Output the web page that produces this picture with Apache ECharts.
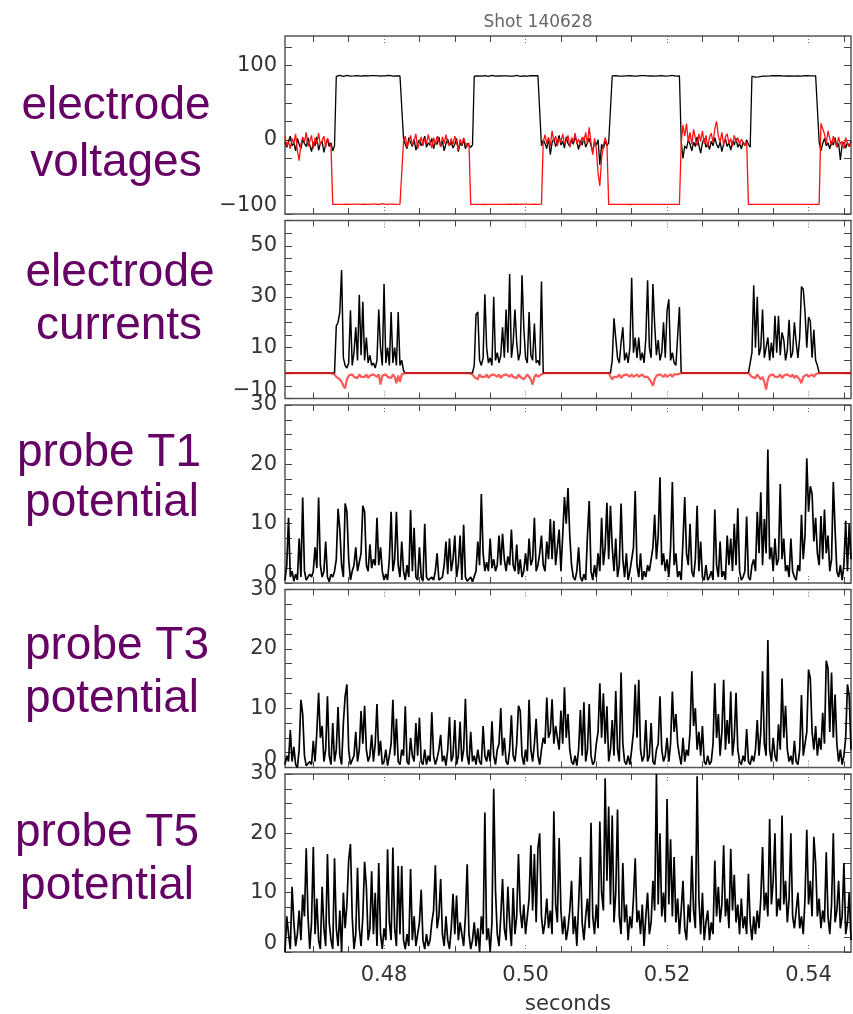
<!DOCTYPE html>
<html>
<head>
<meta charset="utf-8">
<script src="https://cdn.jsdelivr.net/npm/echarts@6/dist/echarts.min.js"></script>
<style>
  html, body { margin: 0; padding: 0; background: #fff; }
  #chart { width: 853px; height: 1014px; }
</style>
</head>
<body>
<div id="chart"></div>
<script>
// Sample grid of every trace: t = T0 + i * DT seconds (321 samples)
const T0 = 0.466;
const DT = 0.00025;
const X_MIN = 0.466;
const X_MAX = 0.546;

const xLabelTicks = [0.48, 0.50, 0.52, 0.54];
const xMinorTicks = [0.470, 0.475, 0.485, 0.490, 0.495, 0.505, 0.510, 0.515, 0.525, 0.530, 0.535, 0.545];

const plotTitle = 'Shot 140628';
const xAxisTitle = 'seconds';
const panelNames = [
  ['electrode', 'voltages'],
  ['electrode', 'currents'],
  ['probe T1', 'potential'],
  ['probe T3', 'potential'],
  ['probe T5', 'potential']
];

// y ranges, labelled values and minor tick step of each panel
const yRanges = [[-100, 140], [-10, 60], [0, 30], [0, 30], [0, 30]];
const yLabels = [[-100, 0, 100], [-10, 10, 30, 50], [0, 10, 20, 30], [0, 10, 20, 30], [0, 10, 20, 30]];
const yTickSteps = [25, 5, 2.5, 2.5, 2.5];

// electrode voltages (V)
const voltBlack = [
  -3,-10,-2,5,-8,-4,-15,2,-6,-12,
  0,-5,-9,3,-7,-16,-3,-8,4,-14,
  -5,-2,-17,-6,1,-9,-4,-15,-8,85.5,
  86.2,86.8,86,85.7,86.4,86.9,86.1,85.8,86.5,86.2,
  85.9,86.7,86.3,86,85.6,86.4,86.8,86.1,85.9,86.5,
  86.2,86.6,85.8,86.3,86.9,86.1,85.7,86.4,86.2,86.8,
  86,85.8,86.5,86.3,86.7,86.1,86.4,2,-6,-12,
  3,-4,-9,1,-14,-5,0,-8,-3,5,
  -10,-4,-7,2,-12,-3,-6,4,-9,-2,
  -15,-5,1,-8,-3,-11,-6,2,-16,-4,
  -8,0,-12,-5,-3,-10,-7,85.8,86.4,86.1,
  86.7,85.9,86.3,86.6,86,85.7,86.4,86.8,86.2,85.9,
  86.5,86.1,86.7,86.3,85.8,86.2,86.6,86,86.4,85.9,
  86.3,86.8,86.1,85.7,86.5,86.2,86.6,86,86.3,86.7,
  85.9,86.4,86.1,86.5,86.2,-8,0,-5,-12,3,
  -20,-4,2,-9,-3,6,-7,-2,-11,4,
  -5,-9,0,-6,5,-3,-13,-1,-7,3,
  -10,-4,2,-8,-16,-3,-7,0,-34,-6,
  -12,-2,-8,-4,-5,86.1,85.8,86.4,86.7,86,
  86.3,85.9,86.6,86.2,85.7,86.5,86.8,86.1,86.4,85.9,
  86.2,86.7,86,86.5,85.8,86.3,86.6,86.1,86.4,85.9,
  86.7,86.2,86,86.5,86.3,85.8,86.6,86.1,86.4,86.8,
  86.2,85.9,86.5,86.3,-2,-25,-8,-12,0,-6,
  -15,-3,-9,4,-7,-18,-4,2,-10,-5,
  -13,-2,-8,3,-6,-11,-3,-16,-5,1,
  -9,-4,-14,-2,-7,2,-10,-5,-12,-3,
  -8,0,-6,-10,85.7,85.2,84.5,84.3,84.8,85.2,
  85.8,86.3,86,86.5,86.2,85.9,86.6,86.1,86.4,86,
  86.7,86.2,85.9,86.5,86.3,86.8,86.1,86.4,85.9,86.6,
  86.2,86.5,86,86.3,86.7,86.1,86.4,85.8,86.2,86.6,
  86.3,86,-3,-15,-5,2,-8,-4,-12,-2,
  -7,3,-10,-5,-27,-6,-3,-11,-4,-9,
  -2
];
const voltRed = [
  5,-8,-3,-12,2,-5,8,-15,-28,-6,
  4,-3,10,-9,-2,6,-12,3,-5,9,
  -7,-1,5,-10,2,-4,-8,-87,-86.5,-87,
  -85.5,-87,-86.8,-87,-87.2,-86.6,-87,-86.9,-87.1,-86.7,
  -87,-86.8,-87.2,-86.9,-87,-86.7,-87.1,-86.9,-87,-86.6,
  -87.1,-86.8,-87,-87.2,-86.7,-86,-87,-86.9,-87.1,-86.8,
  -87,-86.7,-87.1,-86.9,-87,-86.8,-87,-2,5,-10,
  -3,6,-7,-1,8,-12,-4,4,-8,2,
  -5,7,-3,-11,3,-6,5,-2,-9,4,
  -5,7,-4,-8,2,-6,5,-3,-14,1,
  -7,3,-5,-9,-4,-87,-86.8,-87.1,-86.9,-87,
  -86.7,-87,-86.9,-87.2,-86.8,-87,-86.6,-87.1,-86.9,-87,
  -86.8,-87.1,-86.9,-87,-86.7,-87,-87.2,-86.8,-87,-86.9,
  -87.1,-86.8,-87,-86.9,-87.1,-86.7,-87,-86.8,-87.1,-86.9,
  -87,-86.8,-87.1,-86.9,-87,-86.8,-3,7,-5,3,
  -9,12,-2,5,-8,2,-4,8,-6,-1,
  6,-10,3,-3,9,-5,1,-8,4,-2,
  10,-6,17,-4,-20,2,-12,-45,-62,-25,
  -8,3,-5,-87,-86.8,-87.1,-86.9,-87,-86.7,-87,
  -86.9,-87.1,-86.8,-87,-86.9,-87.2,-86.8,-87,-86.9,-87.1,
  -86.8,-87,-86.9,-87.1,-86.7,-87,-86.8,-87.1,-86.9,-87,
  -86.8,-87.1,-86.9,-87,-86.7,-87,-86.9,-87.1,-86.8,-87,
  -86.9,-87.1,-86.8,-87,-5,20,5,22,-3,10,
  -6,14,2,-8,8,-2,12,-5,6,-10,
  3,9,-4,15,25,5,-3,10,-7,4,
  8,-5,2,-9,6,-3,3,-6,1,-4,
  -8,-2,-87,-86.8,-87.1,-86.9,-87,-86.7,-87,-86.9,
  -87.1,-86.2,-87,-86.9,-87.1,-86.8,-87,-86.9,-87.1,-86.8,
  -87,-86.9,-87.1,-86.8,-87,-86.9,-87.1,-86.8,-87,-86.9,
  -87.1,-86.8,-87,-86.9,-87.1,-86.8,-87,-86.9,-87.1,-86.8,
  -87,-86.9,-87,22,15,8,-5,12,2,-8,
  5,-3,-10,4,-6,-2,-12,3,-5,-9,
  -4
];

// electrode currents (A)
const currBlack = [
  0,0,0,0,0,0,0,0,0,0,
  0,0,0,0,0,0,0,0,0,0,
  0,0,0,0,0,0,0,0,0,18.5,
  20,24,40.5,6,3,2,4,24.7,3,8,
  18,5,30.8,7,28,5,14,4,7,3,
  4,2,5,25,10,3,35,4,10,3,
  24,4,10,3,24,3,5,1,0,0,
  0,0,0,0,0,0,0,0,0,0,
  0,0,0,0,0,0,0,0,0,0,
  0,0,0,0,0,0,0,0,0,0,
  0,0,0,0,0,0,0,3,23,24,
  5,3,6,31,10,4,6,3,30,5,
  8,4,7,18,6,25,8,39,6,12,
  25,12,5,8,38.5,18,6,4,24,7,
  5,19.5,4,5,3,36,0,0,0,0,
  0,0,0,0,0,0,0,0,0,0,
  0,0,0,0,0,0,0,0,0,0,
  0,0,0,0,0,0,0,0,0,0,
  0,0,0,0,0,5,21.5,21,6,4,
  12,18,5,8,4,10,37.5,8,14,6,
  14,5,8,4,13.5,36.5,10,6,35,19,
  7,13,5,8,20,6,24.5,29,5,8,
  4,3,3,26,0,0,0,0,0,0,
  0,0,0,0,0,0,0,0,0,0,
  0,0,0,0,0,0,0,0,0,0,
  0,0,0,0,0,0,0,0,0,0,
  0,0,0,0,8,34.5,10,30,7,10,
  25,6,10,14,5,12,6,22.5,8,22.5,
  7,16,13,5,9,21,6,8,20,12,
  6,14,34,33,24,10,22,20.5,6,17,
  5,3,0,0,0,0,0,0,0,0,
  0,0,0,0,0,0,0,0,0,0,
  0
];
const currRed = [
  0,0,0,0,0,0,0,0,0,0,
  0,0,0,0,0,0,0,0,0,0,
  0,0,0,0,0,0,0,0,-0.5,-1.5,
  -1,-2.5,-3.5,-5,-6,-2.5,-1,-1.5,-0.5,-1.5,
  -1,-2,-0.5,-1.5,-1,-1.5,-0.5,-2,-1,-1.5,
  -0.5,-1,-1.5,-0.5,-4.5,-1,-1.5,-0.5,-1.5,-1,
  -2,-0.5,-1.5,-4,-1,-3.5,-0.5,0,0,0,
  0,0,0,0,0,0,0,0,0,0,
  0,0,0,0,0,0,0,0,0,0,
  0,0,0,0,0,0,0,0,0,0,
  0,0,0,0,0,0,-0.5,-1.5,-1,-2.5,
  -0.5,-1.5,-1,-1.5,-0.5,-2,-1,-1.5,-0.5,-1,
  -1.5,-0.5,-2,-1,-1.5,-0.5,-1,-1.5,-0.5,-1.5,
  -1,-2,-0.5,-1.5,-1,-2.5,-1.5,-0.5,-1.5,-2.5,
  -4.5,-1.5,-0.5,-1.5,-1,-0.5,0,0,0,0,
  0,0,0,0,0,0,0,0,0,0,
  0,0,0,0,0,0,0,0,0,0,
  0,0,0,0,0,0,0,0,0,0,
  0,0,0,0,0,-2.5,-1.5,-1,-1.5,-0.5,
  -2,-1,-1.5,-0.5,-1,-1.5,-0.5,-1.5,-1,-0.5,
  -1.5,-1,-0.5,-1.5,-1,-1.5,-2.5,-3.5,-5,-2.5,
  -1,-1.5,-0.5,-1,-1.5,-0.5,-1.5,-1,-0.5,-1.5,
  -0.5,-1,-0.5,-1,0,0,0,0,0,0,
  0,0,0,0,0,0,0,0,0,0,
  0,0,0,0,0,0,0,0,0,0,
  0,0,0,0,0,0,0,0,0,0,
  0,0,0,-0.5,-1.5,-1,-2,-0.5,-1.5,-2.5,
  -1.5,-3.5,-6.5,-2.5,-1,-1.5,-0.5,-1.5,-1,-1.5,
  -0.5,-2,-1,-1.5,-0.5,-1,-1.5,-0.5,-2,-1,
  -1.5,-2.5,-4,-1.5,-1,-0.5,-1.5,-1,-0.5,-1.5,
  -0.5,-1,0,0,0,0,0,0,0,0,
  0,0,0,0,0,0,0,0,0,0,
  0
];

// floating potentials of probes T1, T3, T5 (V)
const probeT1 = [
  0.5,3,11,1,2,0.3,1.5,0.5,7.5,1,
  14.4,2,0.5,1,1.5,1,2,6,2.5,14.4,
  3,1,2,7,1,0.2,1.5,1,2,4,
  12.5,9,3,1,13.4,12,4,0.5,2,3,
  6,2,3.5,5,13,12,3,2,6.5,2.5,
  4,3,11,3,6,2,0.5,1.5,0.5,4,
  12,2,4,12,3,1,7,2,0.5,3,
  1,12.3,2,9.3,1,0.5,6,1,0.3,10,
  1,0.5,0.2,1,0.5,2,5,0.5,0.2,1,
  3,7,1.5,7.5,2,4,8,1,3,8,
  0.5,9.8,1,0.3,0.5,1,0.2,0.5,2,7,
  3,15,5,2,3.5,2,7.5,2.5,4,2,
  3,8,3,8.3,4,2,4.5,3,9,3,
  2,6.5,1.5,4,1,2,5,2,7.5,3,
  4,11,2,3,5,8,3,2,7,4,
  10.8,4,10.5,3,6,9,2,8,14.5,10,
  16,8,3,1,0.5,2,6,1,0.3,1.5,
  0.5,8,13.8,2,0.5,3,1,5,2,11,
  3,6,13.5,4,13,6,2,7.5,1,3,
  13.4,4,1,5,0.5,2,4,6,15.5,3,
  1,5,0.5,2,1,3,2,4,6,11.5,
  4,8,17.8,3,5,2,4,1,6,17,
  3,5,1,2,0.5,7,14.5,5,3,10,
  2,1,4,13,2,7,1,0.5,3,0.5,
  1,2,0.5,12.4,3,1,7,1,2,0.5,
  8,3,7.5,2,10,3,12.6,2,0.5,1,
  2,11.2,1,0.5,3,4,2,12,5,15.3,
  3,10.8,5,22.5,4,6,2,7.5,3,4,
  16.7,4,7.5,2,3,1,7.5,2,1,0.5,
  3,2,11.5,4,8,21,12,16.3,15,7,
  11,5,3,11.3,4,12.4,5,8,2,4,
  17,9,2,1,3,0.5,3,10.5,2,10,
  4
];
const probeT3 = [
  0.5,2,1,6.3,1,3.5,0.5,0,3,11.4,
  9,2,0.3,0,1,0.5,4.5,1,6,12.6,
  5,7,1,3,12,2,0.5,7.5,1,3,
  10.2,2,0.5,7.5,12,14,3,0.5,0.2,2,
  6,1,3,9.5,4,10.4,3,1,2,5.5,
  1,4,10.7,2,4.5,0.5,1,3,0.3,2,
  4,11.4,2,8.2,1,0.5,3,2,10.3,1,
  0.5,5,2,1,7.5,2,8.4,1,0.5,3,
  0.5,2,1,9.3,2,0.5,1.5,3,5.5,1,
  2,0.3,3,8.5,1,2,8,0.5,2,7.7,
  1,3,11.6,2,0.5,6,1,2,0.5,3,
  1,0.5,7,2,1,3,1,7.8,2,0.5,
  3,4,10,2,5,1,0.5,3,8.8,2,
  1,4,10.4,9.5,2,0.5,3,1,11.4,3,
  1,4,8.2,2,0.5,3,5,4,11.8,5,
  6,11.5,4,7,5,3,9.6,4,13.5,5,
  9,3,1,0.5,2,0.3,3,9.7,2,11,
  1,3,10.7,2,0.5,1,4,6,14.2,5,
  12.5,4,10.3,1,3,8,2,12.9,3,1,
  16,4,1,0.5,2,0.5,3,6,14,5,
  14.8,3,1,2,8,1,2,7.5,1,0.5,
  3,4,12,3,1,2,5,1,4,12.8,
  6,9,4,2,0.5,5,1,3,2,6,
  16.2,7,10,3,6,2,7,1,0.5,2,
  0.5,1,4,14.2,5,9,2,6,14.8,3,
  8,4,12.8,2,5,12.6,3,1,0.5,2,
  1,6.5,1,0.5,2,1,3,8,2,6,
  16.2,4,2,21.5,3,1,5,2,1,7.3,
  3,15,5,10.4,3,1,2,0.5,4.5,1,
  0.5,3,12.2,2,4,6,16.5,15,6,3,
  7,2,5,3,9.2,4,18,16.7,6,16,
  5,12.3,4,1,3,0.5,2,5,14,12,
  3
];
const probeT5 = [
  0,6,3,0.5,11,5,1,3,7,2,
  9.7,6,17.5,6,0.5,5,17.7,3,9,2,
  0.5,11,4,1,16.5,5,2,0.5,15.8,4,
  1,7,0,10,4,8,15.5,18.2,6,0.5,
  3,14.2,4,1,6,15.2,11,2,4,13.6,
  3,10,1,15,3,0.5,4,2,17.3,5,
  2,17.6,4,1,14.5,3,14.5,2,0.5,3,
  1,14,2,6,1,3,5,10.5,2,0.5,
  3,1,2,5,7,14.6,4,6,12.3,3,
  1,6,2,0.5,4,9.8,3,9.5,2,5,
  3,1,6,14.8,3,0.5,2,5,1,4,
  0,6,3,23.5,2,4,0,5,27.5,10.5,
  3,1,6,12.3,4,2,11,5,1,10.8,
  3,6,16.5,7,4,8,3,6,9,18,
  7,16.5,5,17.5,20,6,3,5,9,4,
  7,3,23.7,8,5,19.2,7,3,6,2,
  4,7,12,3,6,1,8,16,5,2,
  6,9,4,21.8,6,3,8,4,22,10,
  7,29.3,12,24.5,8,23,5,10,24,6,
  3,15,5,8,2,6,4,9,15.8,5,
  7,3,8,1,6,10,3,5,12,7,
  30,8,20,6,10,5,25.8,8,19,6,
  16,5,9,3,7,12,4,2,8,5,
  16.2,7,4,29.6,9,3,10,2,5,7,
  2,5,3,15.4,6,11,5,8,18,6,
  9,4,17.4,7,13,5,8,3,9,4,
  6,3,13.2,5,2,6,3,7,4,9,
  17.7,7,10,6,22.4,8,12,20,6,9,
  7,23,8,12,5,9,20,6,4,7,
  10,4,6,3,9,20.6,8,12,6,19.4,
  15,6,9,4,7,5,16.8,6,3,8,
  20,5,7,12,4,6,15,3,5,10,
  2
];

// ---- layout ----
const GRID_LEFT = 285;
const GRID_RIGHT = 2;
const GRID_TOPS = [36, 220.5, 405, 589.5, 774];
const GRID_H = 178;
const AXIS_GREY = '#444';
const LABEL_FONT = 'DejaVu Sans, Verdana, sans-serif';
const PURPLE = '#650065';
const LABEL_MARGIN = 8;
const MIN_LABEL_LIFT = 8;   // lowest tick label sits a little above its tick

function toPairs(values) {
  return values.map((v, i) => [+(T0 + i * DT).toFixed(6), v]);
}
function tickList(min, max, step) {
  const out = [];
  for (let k = 0; min + k * step <= max + 1e-9; k++) out.push(+(min + k * step).toFixed(4));
  return out;
}
function fmtY(v) {
  return v < 0 ? '\u2212' + (-v) : String(v);
}

const grids = [], xAxes = [], yAxes = [];
GRID_TOPS.forEach((top, k) => {
  grids.push({
    left: GRID_LEFT, right: GRID_RIGHT, top: top, height: GRID_H,
    show: true, borderColor: '#555', borderWidth: 1.5, backgroundColor: 'transparent',
    containLabel: false, outerBoundsMode: 'none'
  });
  const isLast = k === GRID_TOPS.length - 1;
  const baseX = {
    type: 'value', gridIndex: k, min: X_MIN, max: X_MAX,
    axisLine: { show: false, onZero: false }, splitLine: { show: false }
  };
  // bottom: solid minor ticks (+ labels on the last panel)
  xAxes.push(Object.assign({}, baseX, {
    position: 'bottom',
    axisTick: { show: true, inside: true, length: 6, customValues: xMinorTicks, lineStyle: { color: AXIS_GREY, width: 1 } },
    axisLabel: isLast ? {
      show: true, customValues: xLabelTicks, margin: 13,
      fontFamily: LABEL_FONT, fontSize: 21, color: '#333',
      formatter: v => v.toFixed(2)
    } : { show: false },
    name: isLast ? xAxisTitle : '',
    nameLocation: 'middle', nameGap: 42,
    nameTextStyle: { fontFamily: LABEL_FONT, fontSize: 21, color: '#333' }
  }));
  // bottom: dotted marks at labelled times
  xAxes.push(Object.assign({}, baseX, {
    position: 'bottom',
    axisTick: { show: true, inside: true, length: 8, customValues: xLabelTicks, lineStyle: { color: '#666', width: 1, type: [1, 2] } },
    axisLabel: { show: false }
  }));
  // top: solid minor ticks
  xAxes.push(Object.assign({}, baseX, {
    position: 'top',
    axisTick: { show: true, inside: true, length: 6, customValues: xMinorTicks, lineStyle: { color: AXIS_GREY, width: 1 } },
    axisLabel: { show: false }
  }));
  // top: dotted marks at labelled times
  xAxes.push(Object.assign({}, baseX, {
    position: 'top',
    axisTick: { show: true, inside: true, length: 8, customValues: xLabelTicks, lineStyle: { color: '#666', width: 1, type: [1, 2] } },
    axisLabel: { show: false }
  }));

  const [ymin, ymax] = yRanges[k];
  const ticks = tickList(ymin, ymax, yTickSteps[k]);
  const baseY = {
    type: 'value', gridIndex: k, min: ymin, max: ymax,
    axisLine: { show: false }, splitLine: { show: false }
  };
  // labels above the bottom one; the bottom one is placed after layout
  yAxes.push(Object.assign({}, baseY, {
    position: 'left',
    axisTick: { show: true, inside: true, length: 7, customValues: ticks, lineStyle: { color: AXIS_GREY, width: 1 } },
    axisLabel: {
      show: true, customValues: yLabels[k].filter(v => v !== ymin), margin: LABEL_MARGIN,
      fontFamily: LABEL_FONT, fontSize: 21, color: '#333',
      formatter: fmtY
    }
  }));
  yAxes.push(Object.assign({}, baseY, {
    position: 'right',
    axisTick: { show: true, inside: true, length: 7, customValues: ticks, lineStyle: { color: AXIS_GREY, width: 1 } },
    axisLabel: { show: false }
  }));
});

function trace(values, k, color, width) {
  return {
    type: 'line', xAxisIndex: k * 4, yAxisIndex: k * 2,
    data: toPairs(values), showSymbol: false, symbol: 'none',
    lineStyle: { color: color, width: width }, emphasis: { disabled: true },
    silent: true, animation: false
  };
}

const series = [
  trace(voltBlack, 0, '#000', 1.3),
  trace(voltRed, 0, '#ff1010', 1.3),
  trace(currBlack, 1, '#000', 1.5),
  trace(currRed, 1, 'rgba(255,20,20,0.7)', 2.2),
  trace(probeT1, 2, '#000', 1.7),
  trace(probeT3, 3, '#000', 1.7),
  trace(probeT5, 4, '#000', 1.7)
];

// panel names on the left, two lines each
const nameCenters = [[116, 106, 116, 163], [120, 273, 119, 326], [109, 453, 112, 503], [117, 646, 112, 699], [107, 833, 107, 886]];
const graphics = [{
  type: 'text', x: 538, y: 23, silent: true,
  style: { text: plotTitle, font: '17px ' + LABEL_FONT, fill: '#666', align: 'center', verticalAlign: 'middle', textAlign: 'center', textVerticalAlign: 'middle' }
}];
panelNames.forEach((lines, k) => {
  const c = nameCenters[k];
  lines.forEach((line, j) => {
    graphics.push({
      type: 'text', x: c[j * 2], y: c[j * 2 + 1], silent: true,
      style: { text: line, font: '46px "Liberation Sans", Arial, sans-serif', fill: PURPLE, align: 'center', verticalAlign: 'middle', textAlign: 'center', textVerticalAlign: 'middle' }
    });
  });
});

const chart = echarts.init(document.getElementById('chart'), null, { renderer: 'canvas' });
chart.setOption({
  animation: false,
  backgroundColor: '#fff',
  grid: grids,
  xAxis: xAxes,
  yAxis: yAxes,
  series: series,
  graphic: graphics
});

// bottom tick label of each panel, positioned through the axis scale
const minLabels = yRanges.map(([ymin], k) => {
  const py = chart.convertToPixel({ yAxisIndex: k * 2 }, ymin);
  return {
    type: 'text', x: GRID_LEFT - LABEL_MARGIN, y: py - MIN_LABEL_LIFT, silent: true,
    style: { text: fmtY(ymin), font: '21px ' + LABEL_FONT, fill: '#333', align: 'right', verticalAlign: 'middle', textAlign: 'right', textVerticalAlign: 'middle' }
  };
});
chart.setOption({ graphic: graphics.concat(minLabels) });
</script>
</body>
</html>
